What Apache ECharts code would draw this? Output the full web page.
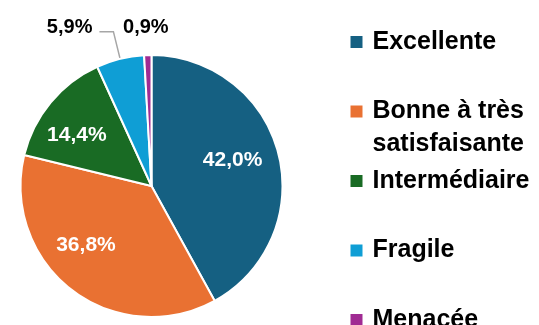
<!DOCTYPE html>
<html>
<head>
<meta charset="utf-8">
<script src="https://cdn.jsdelivr.net/npm/echarts@6/dist/echarts.min.js"></script>
<style>
  html, body { margin: 0; padding: 0; background: #fff; }
  #chart { width: 539px; height: 325px; }
</style>
</head>
<body>
<div id="chart"></div>
<script>
// Répartition par état (en %)
const categories = ['Excellente', 'Bonne à très satisfaisante', 'Intermédiaire', 'Fragile', 'Menacée'];
const shares = [42.0, 36.8, 14.4, 5.9, 0.9];
const legendLabels = ['Excellente', 'Bonne à très\nsatisfaisante', 'Intermédiaire', 'Fragile', 'Menacée'];

// Styling
const colors = ['#156082', '#E97132', '#196B24', '#0F9ED5', '#A02B93'];
const labelOutside = [false, false, false, true, true];
const insideLabelOffsets = [[-9, -3], [-9, -15], [-3, 8], [0, 0], [0, 0]];
const FONT = '"Liberation Sans", Arial, sans-serif';
const CENTER = [151.5, 186];
const RADIUS = 131;

const fmt = v => v.toFixed(1).replace('.', ',') + '%';

const chart = echarts.init(document.getElementById('chart'), null, { renderer: 'canvas' });

// Filled sectors, plus outside labels for the thin slices
const sectorData = categories.map((name, i) => ({
  name,
  value: shares[i],
  itemStyle: { color: colors[i] },
  label: labelOutside[i]
    ? { show: true, position: 'outside', color: '#000', fontSize: 20, fontWeight: 'bold', fontFamily: FONT,
        lineHeight: 9, distanceToLabelLine: 7 }
    : { show: false },
  labelLine: { show: labelOutside[i] && i !== 4 }
}));

// Transparent ring that only carries the inner percentage labels
const labelRingData = categories.map((name, i) => ({
  name,
  value: shares[i],
  label: labelOutside[i]
    ? { show: false }
    : { show: true, offset: insideLabelOffsets[i] }
}));

// One legend block per category so the entries sit on an even vertical rhythm;
// a two-line entry gets an empty leading line so its square lines up with the first line.
const legends = categories.map((name, i) => {
  const c = 42 + i * 69.5;
  const twoLine = legendLabels[i].indexOf('\n') >= 0;
  return {
    data: [name],
    orient: 'vertical',
    left: 350.5,
    top: twoLine ? c - 49.5 : c - 16.5,
    padding: 0,
    icon: 'rect',
    itemWidth: 12,
    itemHeight: 12,
    itemStyle: { borderWidth: 0 },
    selectedMode: false,
    formatter: () => (twoLine ? '\n' : '') + legendLabels[i],
    textStyle: {
      color: '#000', fontSize: 25, fontWeight: 'bold', fontFamily: FONT, lineHeight: 33,
      padding: [0, 0, 0, 5]
    }
  };
});

chart.setOption({
  animation: false,
  legend: legends,
  series: [
    {
      type: 'pie',
      center: CENTER,
      radius: [0, RADIUS],
      startAngle: 90,
      clockwise: true,
      avoidLabelOverlap: false,
      silent: true,
      emphasis: { disabled: true },
      itemStyle: { borderColor: '#fff', borderWidth: 2 },
      // trailing empty line lifts the text a little above the leader line
      label: { formatter: p => fmt(p.value) + '\n' },
      labelLine: { length: 28, length2: 14, smooth: false, lineStyle: { color: '#A6A6A6', width: 1.5 } },
      labelLayout: function (params) {
        if (params.dataIndex === 4) {
          return {
            x: params.rect.x + params.rect.width / 2 - 2,
            y: params.rect.y - 22.5,
            align: 'center',
            verticalAlign: 'middle'
          };
        }
      },
      data: sectorData
    },
    {
      type: 'pie',
      center: CENTER,
      radius: [49, RADIUS],
      startAngle: 90,
      clockwise: true,
      avoidLabelOverlap: false,
      silent: true,
      emphasis: { disabled: true },
      itemStyle: { color: 'rgba(0,0,0,0)', borderWidth: 0 },
      label: {
        position: 'inside',
        color: '#fff', fontSize: 21, fontWeight: 'bold', fontFamily: FONT,
        formatter: p => fmt(p.value)
      },
      labelLine: { show: false },
      data: labelRingData
    }
  ]
});
</script>
</body>
</html>
